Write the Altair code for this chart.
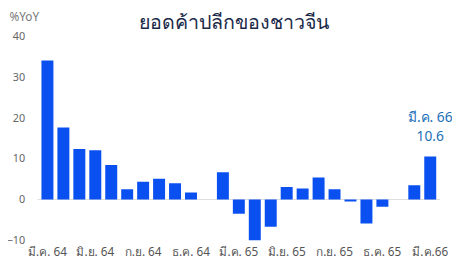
import altair as alt
import pandas as pd

months = ["มี.ค. 64", "เม.ย. 64", "พ.ค. 64", "มิ.ย. 64", "ก.ค. 64", "ส.ค. 64",
          "ก.ย. 64", "ต.ค. 64", "พ.ย. 64", "ธ.ค. 64", "ม.ค. 65", "ก.พ. 65",
          "มี.ค. 65", "เม.ย. 65", "พ.ค. 65", "มิ.ย. 65", "ก.ค. 65", "ส.ค. 65",
          "ก.ย. 65", "ต.ค. 65", "พ.ย. 65", "ธ.ค. 65", "ม.ค. 66", "ก.พ. 66",
          "มี.ค.66"]
values = [34.2, 17.7, 12.4, 12.1, 8.5, 2.5, 4.4, 5.1, 4.0, 1.7, None, 6.7,
          -3.5, -11.1, -6.7, 3.1, 2.7, 5.4, 2.5, -0.5, -5.9, -1.8, None, 3.5,
          10.6]
tick_labels = ["มี.ค. 64", "มิ.ย. 64", "ก.ย. 64", "ธ.ค. 64", "มี.ค. 65",
               "มิ.ย. 65", "ก.ย. 65", "ธ.ค. 65", "มี.ค.66"]
y_ticks = [-10, -5, 0, 5, 10, 15, 20, 25, 30, 35, 40]
annot_label = "มี.ค. 66"
title_text = "ยอดค้าปลีกของชาวจีน"

df = pd.DataFrame({"month": months, "value": values})
df_last = df.iloc[[-1]].copy()
df_last["lab"] = annot_label
df_last["val"] = f"{values[-1]:.1f}"

FONT = "Noto Sans, DejaVu Sans, sans-serif"
BLUE = "#0a50f0"

x = alt.X("month:N", sort=months, title=None,
          scale=alt.Scale(paddingInner=0.25, paddingOuter=0.25),
          axis=alt.Axis(values=tick_labels, labelAngle=0, labelPadding=7,
                        labelFontSize=12, labelColor="#555555", labelFont=FONT,
                        domain=False, ticks=False, grid=False))
y = alt.Y("value:Q", title="%YoY",
          scale=alt.Scale(domain=[-10, 40], nice=False),
          axis=alt.Axis(values=y_ticks, labelPadding=13, labelFontSize=11,
                        labelColor="#666666", labelFont=FONT,
                        domain=False, ticks=False, grid=False,
                        titleAngle=0, titleAlign="left", titleBaseline="middle",
                        titleX=-29, titleY=-21, titleFontSize=12,
                        titleFontWeight="normal", titleColor="#777777",
                        titleFont=FONT))

bars = alt.Chart(df).mark_bar(color=BLUE, clip=True).encode(x=x, y=y)

zero = alt.Chart(pd.DataFrame({"z": [0]})).mark_rule(
    color="#dddddd", strokeWidth=1).encode(y=alt.Y("z:Q"))

lab1 = alt.Chart(df_last).mark_text(
    color="#2170b8", fontSize=14, font=FONT, dy=-39, baseline="middle",
    align="center").encode(x=alt.X("month:N", sort=months),
                           y=alt.Y("value:Q"), text="lab:N")
lab2 = alt.Chart(df_last).mark_text(
    color="#2170b8", fontSize=14, font=FONT, dy=-20, baseline="middle",
    align="center").encode(x=alt.X("month:N", sort=months),
                           y=alt.Y("value:Q"), text="val:N")

title = alt.Chart(pd.DataFrame({"t": [title_text]})).mark_text(
    color="#1b2a4a", fontSize=20, font=FONT, align="center",
    baseline="middle").encode(x=alt.value(200), y=alt.value(-14), text="t:N")

chart = alt.layer(zero, bars, lab1, lab2, title).properties(
    width=410, height=207,
    autosize=alt.AutoSizeParams(type="none"),
    padding={"left": 30, "top": 27, "right": 12, "bottom": 29},
).configure_view(stroke=None)

chart.save("out.html", embed_options={"renderer": "svg", "actions": False})
